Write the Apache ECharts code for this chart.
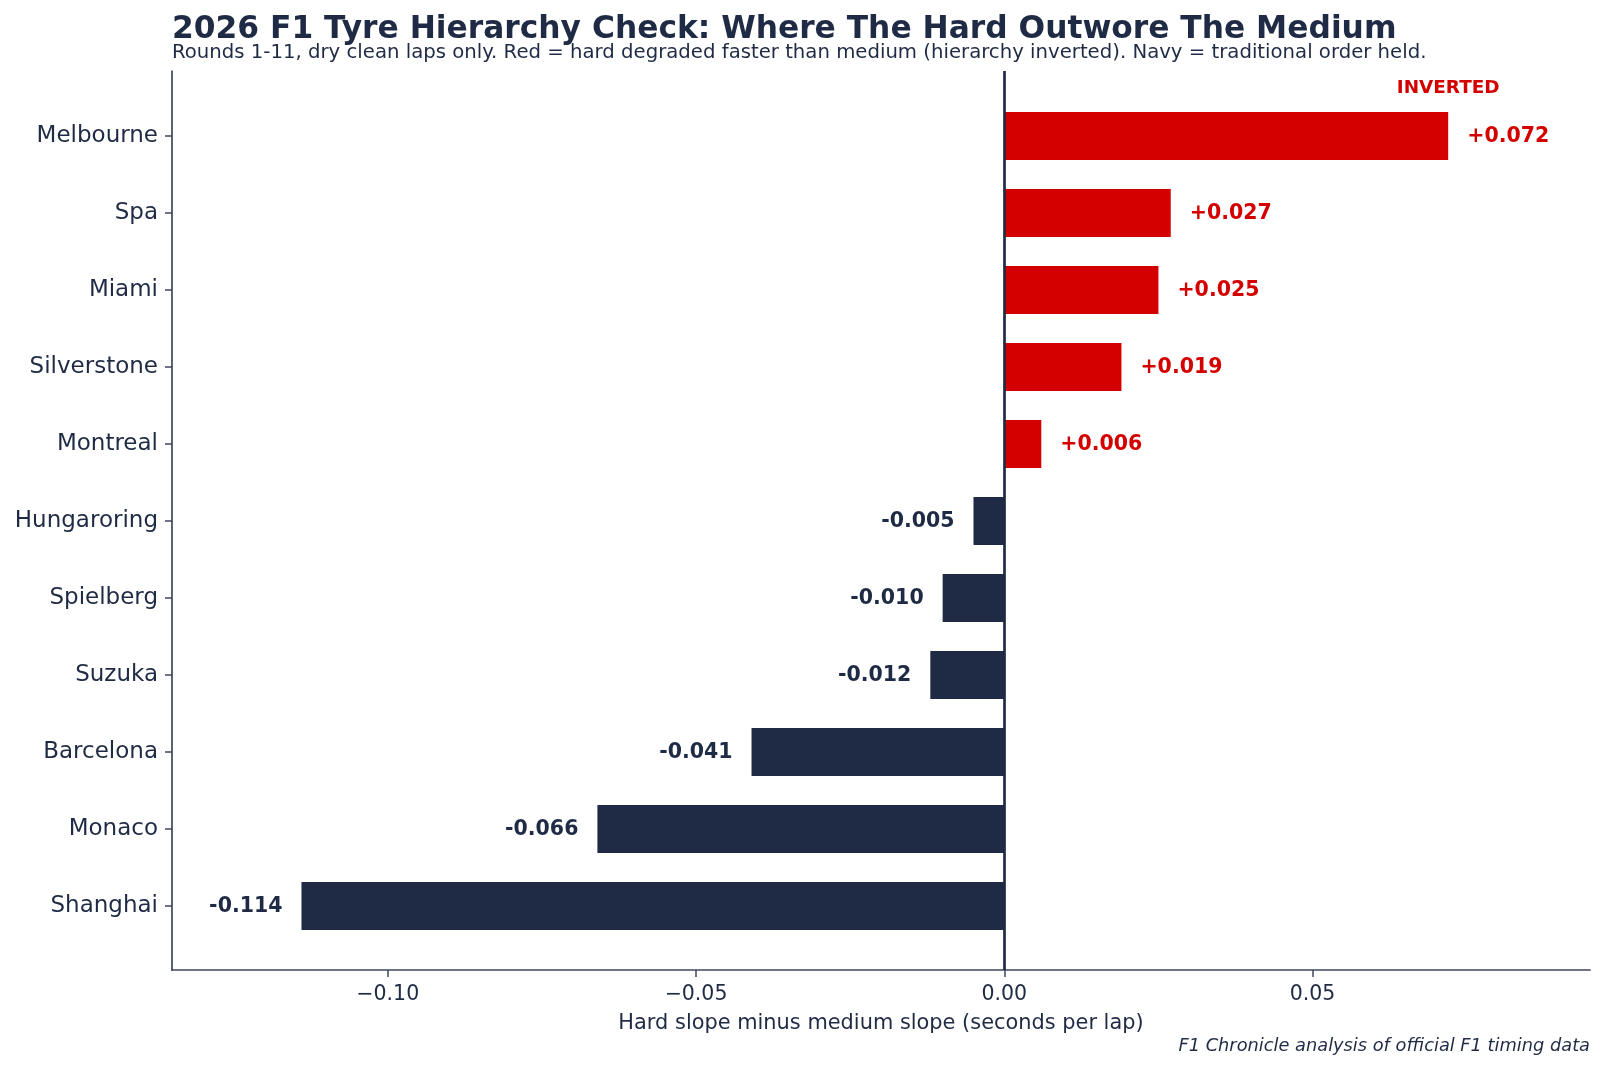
<!DOCTYPE html>
<html>
<head>
<meta charset="utf-8">
<script src="https://cdn.jsdelivr.net/npm/echarts@6/dist/echarts.min.js"></script>
<style>
  html, body { margin: 0; padding: 0; background: #fff; }
  #chart { width: 1605px; height: 1071px; }
</style>
</head>
<body>
<div id="chart"></div>
<script>
// data, top to bottom
var circuits = ['Melbourne', 'Spa', 'Miami', 'Silverstone', 'Montreal', 'Hungaroring',
                'Spielberg', 'Suzuka', 'Barcelona', 'Monaco', 'Shanghai'];
var slopeDiff = [0.072, 0.027, 0.025, 0.019, 0.006, -0.005, -0.010, -0.012, -0.041, -0.066, -0.114];
var xTicks = [-0.10, -0.05, 0.00, 0.05];

var navy = '#1f2a44';
var red = '#d40000';
var spine = '#3f475c';
var font = 'DejaVu Sans';

var barData = slopeDiff.map(function (v) {
    var pos = v > 0;
    return {
        value: v,
        itemStyle: { color: pos ? red : navy },
        label: {
            position: pos ? 'right' : 'left',
            color: pos ? red : navy
        }
    };
});

var option = {
    backgroundColor: '#fff',
    animation: false,
    title: [
        {
            text: '2026 F1 Tyre Hierarchy Check: Where The Hard Outwore The Medium',
            left: 172, top: 14, padding: 0,
            textStyle: { fontFamily: font, fontSize: 31.3, fontWeight: 'bold', color: navy }
        },
        {
            text: 'Rounds 1-11, dry clean laps only. Red = hard degraded faster than medium (hierarchy inverted). Navy = traditional order held.',
            left: 172, top: 43, padding: 0,
            textStyle: { fontFamily: font, fontSize: 19.7, fontWeight: 'normal', color: navy }
        },
        {
            text: 'F1 Chronicle analysis of official F1 timing data',
            right: 15, top: 1037, padding: 0,
            textStyle: { fontFamily: font, fontSize: 17.8, fontStyle: 'italic', fontWeight: 'normal', color: navy }
        }
    ],
    grid: [
        { left: 172, right: 15, top: 97.5, bottom: 126.5 },   // bars
        { left: 172, right: 15, top: 71, bottom: 101 }        // frame, ticks, zero line
    ],
    xAxis: [
        {
            gridIndex: 0, type: 'value', min: -0.135, max: 0.095,
            axisLine: { show: false }, axisTick: { show: false },
            axisLabel: { show: false }, splitLine: { show: false }
        },
        {
            gridIndex: 1, type: 'value', min: -0.135, max: 0.095,
            name: 'Hard slope minus medium slope (seconds per lap)',
            nameLocation: 'middle', nameGap: 43,
            nameTextStyle: { fontFamily: font, fontSize: 20.9, color: navy },
            axisLine: { show: true, onZero: false, lineStyle: { color: spine, width: 1.7 } },
            axisTick: { show: true, length: 7, customValues: xTicks, lineStyle: { color: spine, width: 1.5 } },
            axisLabel: {
                customValues: xTicks, margin: 14,
                fontFamily: font, fontSize: 20.5, color: navy,
                formatter: function (v) {
                    var s = Math.abs(v).toFixed(2);
                    return (v < -1e-9 ? '\u2212' : '') + s;
                }
            },
            splitLine: { show: false }
        }
    ],
    yAxis: [
        {
            gridIndex: 0, type: 'category', data: circuits, inverse: true,
            axisLine: { show: false, onZero: false },
            axisTick: { show: true, alignWithLabel: true, length: 7, lineStyle: { color: spine, width: 1.5 } },
            axisLabel: { margin: 14, fontFamily: font, fontSize: 23, color: navy, padding: [2, 0, 0, 0] }
        },
        {
            gridIndex: 1, type: 'value', min: 0, max: 1,
            axisLine: { show: true, onZero: false, lineStyle: { color: spine, width: 1.7 } },
            axisTick: { show: false }, axisLabel: { show: false }, splitLine: { show: false }
        }
    ],
    series: [
        {
            type: 'bar',
            xAxisIndex: 0, yAxisIndex: 0,
            barWidth: 48,
            data: barData,
            label: {
                show: true, distance: 19, offset: [0, 1],
                fontFamily: font, fontSize: 20.5, fontWeight: 'bold',
                formatter: function (p) {
                    var v = p.value;
                    return (v > 0 ? '+' : '-') + Math.abs(v).toFixed(3);
                }
            },
            markPoint: {
                silent: true,
                symbol: 'circle', symbolSize: 0,
                label: {
                    show: true, offset: [0, -48],
                    formatter: 'INVERTED',
                    fontFamily: font, fontSize: 18.4, fontWeight: 'bold', color: red
                },
                data: [{ coord: [slopeDiff[0], circuits[0]] }]
            }
        },
        {
            type: 'line',
            xAxisIndex: 1, yAxisIndex: 1,
            data: [[0, 0.5]],
            showSymbol: false, symbolSize: 0,
            lineStyle: { width: 0 },
            markLine: {
                silent: true, symbol: ['none', 'none'],
                label: { show: false },
                lineStyle: { color: navy, width: 2.7, type: 'solid' },
                data: [{ xAxis: 0 }],
                z: 10
            }
        }
    ]
};

var myChart = echarts.init(document.getElementById('chart'));
myChart.setOption(option);
</script>
</body>
</html>
